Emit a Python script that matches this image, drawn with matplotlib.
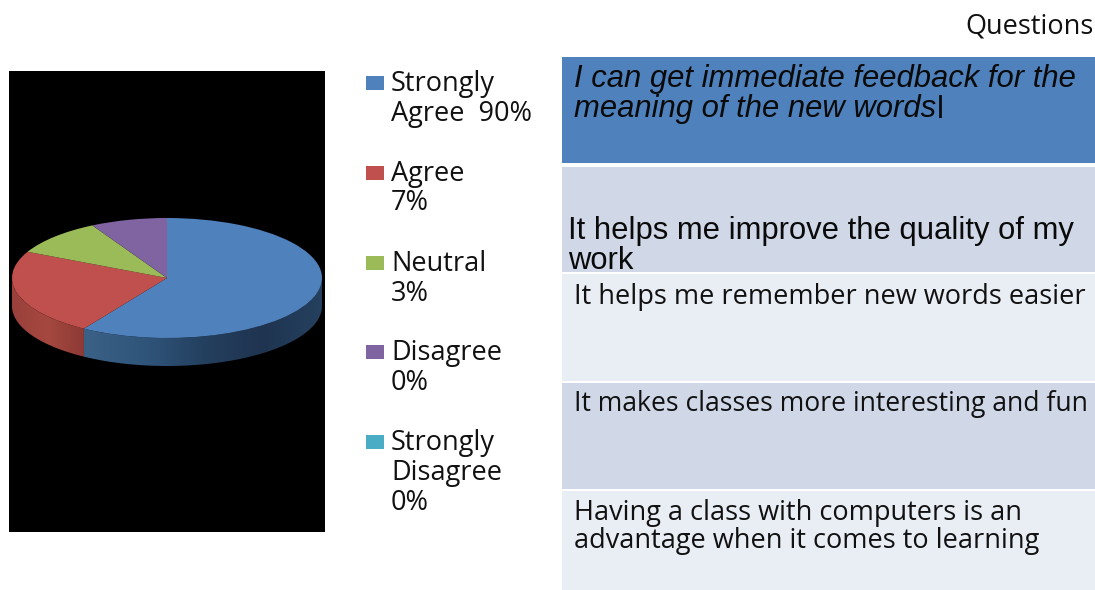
import numpy as np
import matplotlib
matplotlib.use("Agg")
import matplotlib.pyplot as plt
import matplotlib.patches as patches
from matplotlib.colors import LinearSegmentedColormap

# slice sizes as drawn (they do not follow the percentages in the legend)
pie_values = [59, 23.2, 9.8, 8]
pie_colors = ["#4f81bd", "#c0504d", "#9bbb59", "#8064a2"]

legend_labels = [["Strongly", "Agree  90%"], ["Agree", "7%"], ["Neutral", "3%"],
                 ["Disagree", "0%"], ["Strongly", "Disagree", "0%"]]
legend_colors = ["#4f81bd", "#c0504d", "#9bbb59", "#8064a2", "#4bacc6"]

questions = [["I can get immediate feedback for the", "meaning of the new words"],
             ["It helps me improve the quality of my", "work"],
             ["It helps me remember new words easier"],
             ["It makes classes more interesting and fun"],
             ["Having a class with computers is an", "advantage when it comes to learning"]]
row_colors = ["#4f81bd", "#d0d8e8", "#e9edf4", "#d0d8e8", "#e9edf4"]

# layout, in reference pixels
W, H = 1095, 590
row_spans = [(57, 163), (167, 272), (274, 381), (383, 489), (491, 590)]
row_baselines = [[87.5, 117.5], [239.5, 269], [304], [411], [520, 548]]
row_x = [574, 568, 574, 574, 574]
row_sizes = [22.3, 22.3, 19.5, 19.1, 19.5]
legend_baselines = [[91, 121.5], [181, 210.5], [271, 301], [360, 390], [450, 480, 510]]
legend_boxes = [76, 166, 256, 345, 435]
black = (9, 71, 325, 532)
cx, cy, rx, ry, depth = 167, 278, 155, 60, 28

# side wall gradients, left to right
side_colors = {0: ["#3c6187", "#30557b", "#24405f", "#1f3450", "#25415f"],
               1: ["#9a403c", "#a5483f", "#8e3a36"]}

sans = "Open Sans"
arial = "Liberation Sans"

fig = plt.figure(figsize=(W / 100, H / 100), dpi=100, facecolor="white")

# overlay in pixel coordinates for the table and legend
page = fig.add_axes([0, 0, 1, 1])
page.set_xlim(0, W)
page.set_ylim(H, 0)
page.axis("off")

for (top, bottom), color in zip(row_spans, row_colors):
    page.add_patch(patches.Rectangle((562, top), W - 562, bottom - top, facecolor=color, edgecolor="none"))

page.text(1094, 34, "Questions", family=sans, fontsize=19.5, ha="right", va="baseline", color="#111111")

for i, (lines, baselines) in enumerate(zip(questions, row_baselines)):
    for line, y in zip(lines, baselines):
        if i == 0:
            last = page.text(row_x[i], y, line, family=arial, style="italic", fontsize=row_sizes[i],
                             va="baseline", color="#0a0a0a")
        elif i == 1:
            page.text(row_x[i], y, line, family=arial, fontsize=row_sizes[i], va="baseline", color="#0a0a0a")
        else:
            page.text(row_x[i], y, line, family=sans, fontsize=row_sizes[i], va="baseline", color="#111111")

# the stray upright "l" after the italic line
end = last.get_window_extent(fig.canvas.get_renderer()).x1
page.text(end + 1, row_baselines[0][1], "l", family=arial, fontsize=row_sizes[0], va="baseline", color="#0a0a0a")

for lines, baselines, box, color in zip(legend_labels, legend_baselines, legend_boxes, legend_colors):
    page.add_patch(patches.Rectangle((366, box), 18, 14, facecolor=color, edgecolor="none"))
    for line, y in zip(lines, baselines):
        page.text(391, y, line, family=sans, fontsize=19.5, va="baseline", color="#111111")

# pie on a black panel; data units are the ellipse radii
left, top, right, bottom = black
ax = fig.add_axes([left / W, 1 - bottom / H, (right - left) / W, (bottom - top) / H])
ax.pie(pie_values, colors=pie_colors, startangle=90, counterclock=False, radius=1,
       wedgeprops={"linewidth": 0})

# side wall: angles run clockwise from 12 o'clock
edges = np.cumsum([0] + pie_values) / sum(pie_values) * 360
d = depth / ry
for i, stops in side_colors.items():
    t = np.radians(np.linspace(max(edges[i], 90), min(edges[i + 1], 270), 200))
    x, y = np.sin(t), np.cos(t)
    wall = patches.Polygon(np.r_[np.c_[x, y], np.c_[x, y - d][::-1]], closed=True,
                           facecolor="none", edgecolor="none", transform=ax.transData)
    ax.add_patch(wall)
    cmap = LinearSegmentedColormap.from_list("wall", stops)
    im = ax.imshow(np.linspace(0, 1, 256)[None, :], cmap=cmap, aspect="auto", zorder=0.5,
                   extent=(x.min(), x.max(), y.min() - d, y.max()))
    im.set_clip_path(wall)

ax.set_aspect("auto")
ax.set_xlim((left - cx) / rx, (right - cx) / rx)
ax.set_ylim((cy - bottom) / ry, (cy - top) / ry)
ax.set_facecolor("black")
ax.set_frame_on(True)
for spine in ax.spines.values():
    spine.set_visible(False)

fig.savefig("out.png", dpi=100)
